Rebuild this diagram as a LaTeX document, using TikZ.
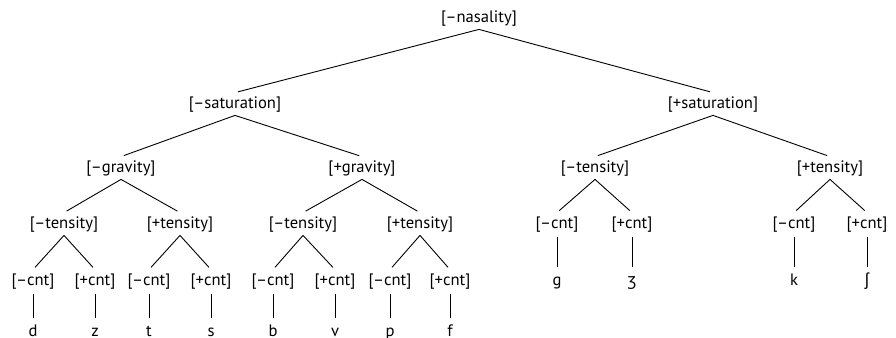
\documentclass[tikz,border=0pt]{standalone}
\usepackage{fontspec}
\setmainfont{PT Sans}
\newfontfamily\ipa{Noto Sans}

\begin{document}
\begin{tikzpicture}[x=0.5pt, y=-0.5pt]
% Stili per i tratti e le etichette dell'albero
\tikzset{tratto/.style={anchor=base, inner sep=1.5pt, text height=6pt, text depth=2pt, font=\fontsize{8.3}{10}\selectfont},
         ramo/.style={line width=0.45pt, shorten >=1.5pt}}

% Quote delle righe (linee di base)
\def\ya{22}
\def\yb{108}
\def\yc{172}
\def\yd{228}
\def\ye{285}
\def\yf{336}

\useasboundingbox (0,0) rectangle (896,338);

% --- RADICE E SATURAZIONE ---
\node[tratto] (nas)  at (479,\ya) {[\textendash nasality]};
\node[tratto] (satm) at (235,\yb) {[\textendash saturation]};
\node[tratto] (satp) at (713,\yb) {[+saturation]};

% --- GRAVITA' (ramo sinistro) e TENSIONE (ramo destro) ---
\node[tratto] (gravm) at (121,\yc) {[\textendash gravity]};
\node[tratto] (gravp) at (362,\yc) {[+gravity]};
\node[tratto] (rtm)   at (595,\yc) {[\textendash tensity]};
\node[tratto] (rtp)   at (830,\yc) {[+tensity]};

\node[tratto] (tmm) at (64,\yd)  {[\textendash tensity]};
\node[tratto] (tmp) at (180,\yd) {[+tensity]};
\node[tratto] (tpm) at (303,\yd) {[\textendash tensity]};
\node[tratto] (tpp) at (420,\yd) {[+tensity]};

% --- CONTINUITA' E FONEMI ---
% ramo sinistro: [cnt] sulla quinta riga, fonemi sulla sesta
\foreach \x/\fon [count=\i] in {33/d, 95/z, 149/t, 211/s, 273/b, 335/v, 390/p, 450/f} {
    \pgfmathsetmacro{\segno}{isodd(\i) ? "\textendash" : "+"}
    \node[tratto] (c\i) at (\x,\ye) {[\segno cnt]};
    \node[tratto] (f\i) at (\x,\yf) {\fon};
    \draw[ramo, shorten <=1pt] (c\i.south) -- (f\i.north);
}
% ramo destro: [cnt] sulla quarta riga, fonemi sulla quinta
\foreach \x/\fon [count=\i] in {557/g, 632/{\ipa ʒ}, 794/k, 867/{\ipa ʃ}} {
    \pgfmathsetmacro{\segno}{isodd(\i) ? "\textendash" : "+"}
    \node[tratto] (rc\i) at (\x,\yd) {[\segno cnt]};
    \node[tratto] (rf\i) at (\x,\ye) {\fon};
    \draw[ramo, shorten <=1pt] (rc\i.south) -- (rf\i.north);
}

% --- RAMI DELL'ALBERO ---
\foreach \a/\b in {nas/satm, nas/satp, satm/gravm, satm/gravp, satp/rtm, satp/rtp,
                   gravm/tmm, gravm/tmp, gravp/tpm, gravp/tpp,
                   tmm/c1, tmm/c2, tmp/c3, tmp/c4, tpm/c5, tpm/c6, tpp/c7, tpp/c8,
                   rtm/rc1, rtm/rc2, rtp/rc3, rtp/rc4}
    \draw[ramo] (\a.south) -- (\b.north);

\end{tikzpicture}
\end{document}
